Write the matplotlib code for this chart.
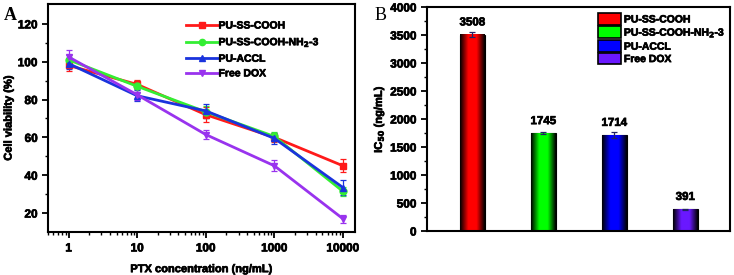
import numpy as np
import matplotlib
matplotlib.use("Agg")
import matplotlib.pyplot as plt
import matplotlib.patheffects as pe
from matplotlib.colors import LinearSegmentedColormap
from matplotlib.ticker import MultipleLocator, LogLocator, NullFormatter, FixedLocator
from matplotlib.patches import Patch

plt.rcParams['font.family'] = ['Liberation Sans', 'DejaVu Sans']
plt.rcParams['font.weight'] = 'bold'
plt.rcParams['axes.labelweight'] = 'bold'

# ---- data ----
conc = [1, 10, 100, 1000, 10000]
series_names = ["PU-SS-COOH", "PU-SS-COOH-NH$_2$-3", "PU-ACCL", "Free DOX"]
via_cooh = [98, 88, 72, 60, 45]
via_nh2 = [101, 87, 73.5, 60.5, 31.5]
via_accl = [99, 82, 74, 59.5, 33.5]
via_dox = [102.5, 82.5, 61.5, 45, 17]
err_cooh = [3, 2.5, 4, 2.5, 3.5]
err_nh2 = [2.5, 3, 3, 2.5, 2.5]
err_accl = [3, 3, 3.5, 3, 4]
err_dox = [3.5, 3, 2.5, 3, 2]

ic50_labels = ["PU-SS-COOH", "PU-SS-COOH-NH$_2$-3", "PU-ACCL", "Free DOX"]
ic50_values = [3508, 1745, 1714, 391]
ic50_err = [40, 15, 45, 10]

line_colors = ["#ff1a1a", "#33ee33", "#1a33dd", "#9933ee"]
markers = ["s", "o", "^", "v"]
bar_colors = ["#ff0000", "#00ff00", "#0000ff", "#6a18ff"]

W, H = 734, 275
fig = plt.figure(figsize=(W / 100, H / 100), dpi=100)

def rect(l, r, t, b):
    return [l / W, 1 - b / H, (r - l) / W, (b - t) / H]

fs_tick = 8.5
fs_lab = 8
fs_leg = 7.5

def style_ticks(ax):
    ax.tick_params(which='major', direction='out', length=4, width=1.3, labelsize=fs_tick)
    ax.tick_params(which='minor', direction='out', length=2.2, width=1.0)
    for lab in ax.get_xticklabels() + ax.get_yticklabels():
        lab.set_fontweight('bold')
    for s in ax.spines.values():
        s.set_linewidth(1.5)

# ---- Panel A ----
axA = fig.add_axes(rect(48, 355, 4, 232))
vals = [via_cooh, via_nh2, via_accl, via_dox]
errs = [err_cooh, err_nh2, err_accl, err_dox]
handles = []
for v, e, c, m, name in zip(vals, errs, line_colors, markers, series_names):
    axA.errorbar(conc, v, yerr=e, color=c, ecolor=c, elinewidth=0.9, capsize=2.5,
                 capthick=0.9, lw=2.0, marker=m, ms=5, mec=c, mfc=c, zorder=3)
    h, = axA.plot([], [], color=c, lw=2.0, marker=m, ms=4.5)
    handles.append(h)
axA.set_xscale('log')
axA.set_xlim(0.5, 15000)
axA.set_ylim(10, 130.5)
axA.set_xticks(conc)
axA.set_xticklabels([str(c) for c in conc])
axA.xaxis.set_minor_locator(LogLocator(base=10, subs=np.arange(2, 10), numticks=20))
axA.xaxis.set_minor_formatter(NullFormatter())
axA.yaxis.set_major_locator(FixedLocator([20, 40, 60, 80, 100, 120]))
axA.yaxis.set_minor_locator(FixedLocator([30, 50, 70, 90, 110]))
style_ticks(axA)
axA.set_xlabel("PTX concentration (ng/mL)", fontsize=fs_lab, labelpad=7)
axA.set_ylabel("Cell viability (%)", fontsize=fs_lab, labelpad=3)
axA.legend(handles, series_names, loc='upper left', bbox_to_anchor=(0.43, 0.955),
           frameon=False, fontsize=fs_leg, handlelength=3.0, handletextpad=0.1,
           labelspacing=0.45, borderaxespad=0.2)

# ---- Panel B ----
axB = fig.add_axes(rect(427, 730, 7, 231))
xpos = np.arange(1, len(ic50_values) + 1)
bars = axB.bar(xpos, ic50_values, width=0.35, color=bar_colors, edgecolor='black',
               linewidth=0.8, zorder=2)
for b, c in zip(bars, bar_colors):
    cmap = LinearSegmentedColormap.from_list('g', ['#000000', c, c, '#000000'])
    grad = np.linspace(0, 1, 64).reshape(1, -1)
    x0 = b.get_x(); w = b.get_width(); h = b.get_height()
    axB.imshow(grad, cmap=cmap, aspect='auto', extent=(x0, x0 + w, 0, h), zorder=2.5,
               interpolation='bilinear')
axB.errorbar(xpos, ic50_values, yerr=ic50_err, fmt='none', ecolor='#222266',
             elinewidth=0.9, capsize=2.5, capthick=0.9, zorder=3)
for x, v in zip(xpos, ic50_values):
    axB.text(x, v + 110, str(v), ha='center', va='bottom', fontsize=8.3, fontweight='bold')
axB.set_xlim(0.36, 4.63)
axB.set_ylim(0, 4000)
axB.set_xticks([])
axB.yaxis.set_major_locator(MultipleLocator(500))
axB.yaxis.set_minor_locator(MultipleLocator(250))
style_ticks(axB)
axB.set_ylabel("IC$_{50}$ (ng/mL)", fontsize=fs_lab, labelpad=3)
bh = [Patch(facecolor=c, edgecolor='black', linewidth=1.2) for c in bar_colors]
axB.legend(bh, ic50_labels, loc='upper left', bbox_to_anchor=(0.545, 1.0),
           frameon=False, fontsize=fs_leg, handlelength=2.2, handleheight=1.3,
           handletextpad=0.25, labelspacing=0.1, borderaxespad=0.2)

# slightly heavier text, as in the reference
for t in fig.findobj(matplotlib.text.Text):
    if t.get_text():
        t.set_path_effects([pe.withStroke(linewidth=0.5, foreground=t.get_color())])

# panel letters (serif)
fig.text(4 / W, 1 - 16 / H, "A", fontsize=13, fontweight='bold',
         family=['Liberation Serif'], va='center', ha='left')
fig.text(375 / W, 1 - 16 / H, "B", fontsize=13, fontweight='normal',
         family=['Liberation Serif'], va='center', ha='left')

fig.savefig("out.png", dpi=100)
